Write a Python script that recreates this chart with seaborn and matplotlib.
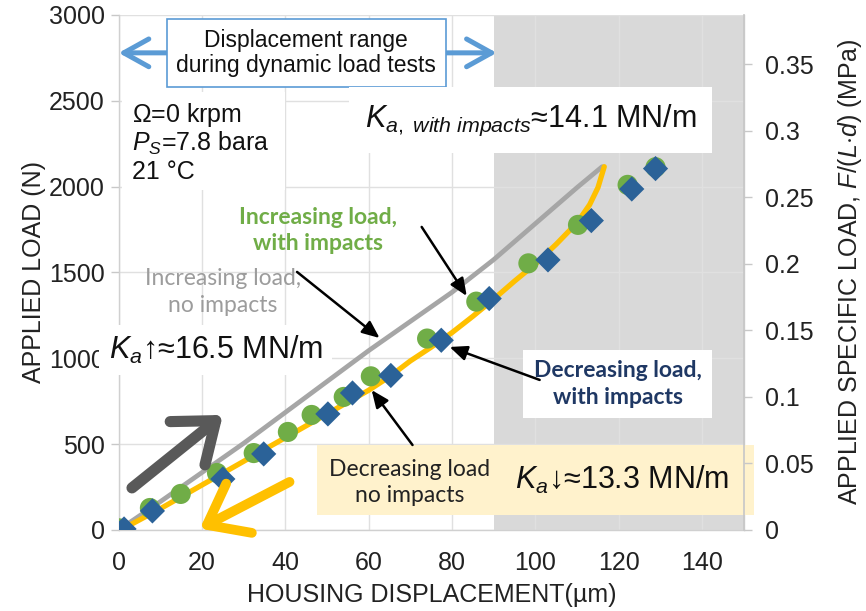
import matplotlib
matplotlib.use("Agg")
import matplotlib.pyplot as plt
from matplotlib.patches import Rectangle
from matplotlib.ticker import FuncFormatter
import seaborn as sns

# ---------------- data ----------------
inc_imp_x = [0, 7.5, 14.9, 23.6, 32.4, 40.6, 46.3, 54.0, 60.5, 74.0, 85.8, 98.3, 110.2, 122.1, 128.8]
inc_imp_y = [10, 128, 210, 332, 448, 571, 670, 775, 895, 1115, 1330, 1553, 1777, 2010, 2113]

dec_imp_x = [1.3, 8.1, 25.0, 34.8, 50.2, 56.1, 65.3, 77.4, 88.9, 103.0, 113.4, 123.1, 128.8]
dec_imp_y = [6, 111, 297, 443, 676, 798, 900, 1105, 1348, 1573, 1802, 1986, 2105]

inc_noimp_x = [0, 10, 20, 30, 40, 50, 60, 70, 80, 90, 100, 110, 116]
inc_noimp_y = [0, 165, 335, 505, 685, 865, 1045, 1215, 1385, 1575, 1785, 1995, 2116]

dec_noimp_x = [0.5, 10, 20, 30, 40, 50, 60, 65, 70, 75, 80, 85, 90, 95, 100, 105, 110, 113, 115, 116.5]
dec_noimp_y = [0, 124, 262, 400, 538, 676, 814, 893, 985, 1065, 1150, 1245, 1345, 1450, 1550, 1665, 1790, 1895, 1995, 2116]

x_ticks = [0, 20, 40, 60, 80, 100, 120, 140]
y_ticks = [0, 500, 1000, 1500, 2000, 2500, 3000]
y2_ticks = [0, 0.05, 0.1, 0.15, 0.2, 0.25, 0.3, 0.35]
shade_range = [90, 150]
L_times_d = 7.75e-3  # m^2, so that 3000 N <-> ~0.387 MPa

# ---------------- style ----------------
sns.set_theme(style="whitegrid")
plt.rcParams['font.family'] = ['Liberation Sans', 'DejaVu Sans']
plt.rcParams['mathtext.fontset'] = 'custom'
plt.rcParams['mathtext.rm'] = 'Liberation Sans'
plt.rcParams['mathtext.it'] = 'Liberation Sans:italic'
plt.rcParams['mathtext.bf'] = 'Liberation Sans:bold'

GRID = '#e0e0e0'
SHADE = '#d9d9d9'
GREEN = '#70AD47'
NAVY_M = '#2B6298'
GRAYL = '#A6A6A6'
GOLD = '#FFC000'
CAL = ['Lato', 'DejaVu Sans']

fig = plt.figure(figsize=(8.66, 6.11), dpi=100)
ax = fig.add_axes([0.137, 0.1326, 0.722, 0.843])
ax.set_facecolor('white')

ax.axvspan(shade_range[0], shade_range[1], color=SHADE, zorder=0, lw=0)

sns.lineplot(x=inc_noimp_x, y=inc_noimp_y, ax=ax, color=GRAYL, lw=3.4, sort=False,
             estimator=None, zorder=2)
sns.lineplot(x=dec_noimp_x, y=dec_noimp_y, ax=ax, color=GOLD, lw=3.8, sort=False,
             estimator=None, zorder=2)
sns.scatterplot(x=inc_imp_x, y=inc_imp_y, ax=ax, marker='o', s=210, color=GREEN,
                edgecolor='none', zorder=3)
sns.scatterplot(x=dec_imp_x, y=dec_imp_y, ax=ax, marker='D', s=165, color=NAVY_M,
                edgecolor='none', zorder=4)

ax.set_xlim(0, 150)
ax.set_ylim(0, 3000)
ax.set_xticks(x_ticks)
ax.set_yticks(y_ticks)
ax.grid(True, color=GRID, lw=1.0)
ax.set_axisbelow(True)
ax.spines['top'].set_visible(False)
for s in ['left', 'bottom', 'right']:
    ax.spines[s].set_color('#d0d0d0')
    ax.spines[s].set_linewidth(1.0)
ax.tick_params(axis='both', which='major', labelsize=18, colors='#222222',
               length=6, width=1, direction='out', pad=4)
ax.tick_params(axis='x', pad=9)
ax.tick_params(axis='both', color='#c8c8c8')
ax.set_xlabel('HOUSING DISPLACEMENT(µm)', fontsize=18, color='#222222', labelpad=6)
ax.set_ylabel('APPLIED LOAD (N)', fontsize=18, color='#222222', labelpad=2)

ax2 = ax.twinx()
ax2.set_ylim(0, 3000 / L_times_d / 1e6)
ax2.set_yticks(y2_ticks)
ax2.yaxis.set_major_formatter(FuncFormatter(lambda v, p: '%g' % round(v, 2)))
ax2.grid(False)
for s in ['top', 'left', 'bottom']:
    ax2.spines[s].set_visible(False)
ax2.spines['right'].set_color('#c8c8c8')
ax2.tick_params(axis='y', labelsize=18, colors='#222222', length=6, width=1,
                direction='out', pad=9)
ax2.tick_params(axis='y', color='#c8c8c8')
ax2.set_ylabel('APPLIED SPECIFIC LOAD, $F/(L{\\cdot}d)$ (MPa)', fontsize=18,
               color='#222222', labelpad=16)

# ---------------- annotations ----------------
ax.annotate('', xy=(0, 2779), xytext=(90.7, 2779),
            arrowprops=dict(arrowstyle='<->,head_length=0.9,head_width=0.5', color='#5B9BD5',
                            lw=3.6, shrinkA=0, shrinkB=0, mutation_scale=20),
            annotation_clip=False, zorder=6)
ax.text(45, 2779, 'Displacement range\nduring dynamic load tests', fontsize=16.5,
        ha='center', va='center', color='#111111', zorder=7, linespacing=1.15,
        bbox=dict(boxstyle='square,pad=0.42', fc='white', ec='#5B9BD5', lw=1.2))

ax.add_patch(Rectangle((0.8, 1980), 39.0, 570, fc='white', ec='none', zorder=5))
ax.text(3.2, 2417, '$Ω$=0 krpm', fontsize=18, ha='left', va='center', zorder=7, color='#111111')
ax.text(3.2, 2254, '$P_S$=7.8 bara', fontsize=18, ha='left', va='center', zorder=7, color='#111111')
ax.text(3.2, 2085, '21 °C', fontsize=18, ha='left', va='center', zorder=7, color='#111111')

ax.text(59, 2388, '$K_{a,\\ with\\ impacts}$≈14.1 MN/m', fontsize=22, ha='left',
        va='center', zorder=7, color='#111111',
        bbox=dict(boxstyle='square,pad=0.5', fc='white', ec='none'))
ax.text(-2.4, 1048, '$K_a\\mathbf{↑}$≈16.5 MN/m', fontsize=22, ha='left', va='center',
        zorder=7, color='#111111', clip_on=False,
        bbox=dict(boxstyle='square,pad=0.3', fc='white', ec='none'))

ax.add_patch(Rectangle((47.6, 87), 104.9, 408, fc='#FFF2CC', ec='none', zorder=5,
                       clip_on=False))
ax.text(69.8, 274, 'Decreasing load\nno impacts', fontsize=16.5, family=CAL, ha='center',
        va='center', zorder=7, color='#222222', linespacing=1.3)
ax.text(120.7, 291, '$K_a\\mathbf{↓}$≈13.3 MN/m', fontsize=22, ha='center', va='center',
        zorder=7, color='#111111', clip_on=False)

ax.text(25, 1386, 'Increasing load,\nno impacts', fontsize=16.5, family=CAL, ha='center',
        va='center', zorder=7, color='#9C9C9C', linespacing=1.3)
ax.text(47.8, 1742, 'Increasing load,\nwith impacts', fontsize=16.5, family=CAL,
        fontweight='bold', ha='center', va='center', zorder=7, color=GREEN, linespacing=1.3)
ax.text(119.7, 850, 'Decreasing load,\nwith impacts', fontsize=16.5, family=CAL,
        fontweight='bold', ha='center', va='center', zorder=7, color='#1F3864',
        linespacing=1.3, bbox=dict(boxstyle='square,pad=0.45', fc='white', ec='none'))

thin = dict(arrowstyle='-|>,head_length=0.7,head_width=0.3', color='black', lw=1.8,
            shrinkA=0, shrinkB=0, mutation_scale=15)
ax.annotate('', xy=(83.5, 1363), xytext=(72.7, 1765), arrowprops=thin, zorder=8)
ax.annotate('', xy=(62.6, 1118), xytext=(42.8, 1503), arrowprops=thin, zorder=8)
ax.annotate('', xy=(79.4, 1066), xytext=(101.0, 874), arrowprops=thin, zorder=8)
ax.annotate('', xy=(60.7, 815), xytext=(70.5, 495), arrowprops=thin, zorder=8)

ax.annotate('', xy=(25, 670), xytext=(3.2, 245),
            arrowprops=dict(arrowstyle='->,head_length=1.3,head_width=1.0', color='#595959',
                            lw=8, shrinkA=0, shrinkB=0, mutation_scale=20),
            zorder=6)
ax.annotate('', xy=(19.5, 8), xytext=(41, 280),
            arrowprops=dict(arrowstyle='->,head_length=1.3,head_width=1.0', color=GOLD,
                            lw=7, shrinkA=0, shrinkB=0, mutation_scale=20),
            zorder=6, annotation_clip=False)

fig.savefig('out.png', dpi=100)
